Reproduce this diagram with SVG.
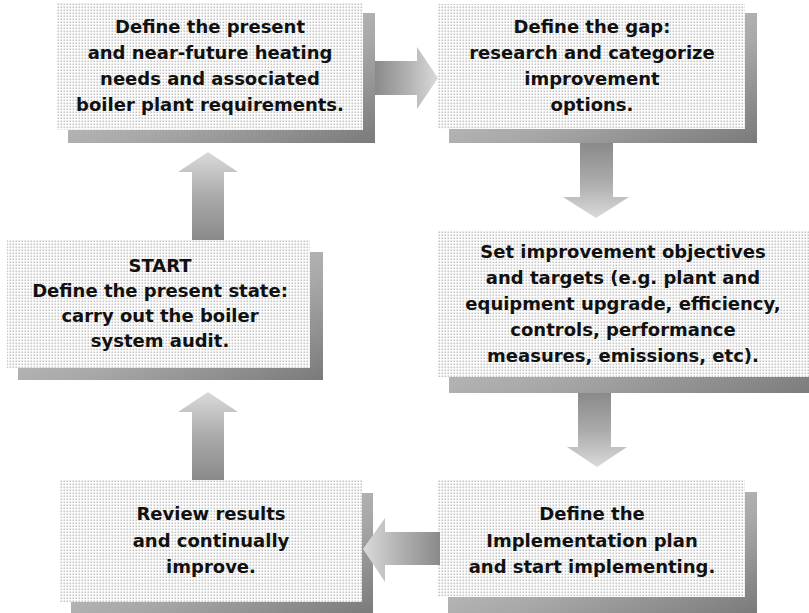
<svg xmlns="http://www.w3.org/2000/svg" width="809" height="613" viewBox="0 0 809 613">
<defs>
<pattern id="dots" width="3" height="3" patternUnits="userSpaceOnUse">
<rect width="3" height="3" fill="#ffffff"/>
<rect x="0.5" y="0.5" width="1.6" height="1.6" fill="#c4c4c4"/>
</pattern>
<linearGradient id="shadow" x1="0" y1="0" x2="1" y2="1">
<stop offset="0" stop-color="#d4d4d4"/>
<stop offset="0.6" stop-color="#a8a8a8"/>
<stop offset="1" stop-color="#7a7a7a"/>
</linearGradient>
<linearGradient id="gUp" x1="0" y1="1" x2="0" y2="0">
<stop offset="0" stop-color="#8a8a8a"/>
<stop offset="0.5" stop-color="#aaaaaa"/>
<stop offset="1" stop-color="#dadada"/>
</linearGradient>
<linearGradient id="gDown" x1="0" y1="0" x2="0" y2="1">
<stop offset="0" stop-color="#8a8a8a"/>
<stop offset="0.5" stop-color="#aaaaaa"/>
<stop offset="1" stop-color="#dadada"/>
</linearGradient>
<linearGradient id="gRight" x1="0" y1="0" x2="1" y2="0">
<stop offset="0" stop-color="#8a8a8a"/>
<stop offset="0.5" stop-color="#b0b0b0"/>
<stop offset="1" stop-color="#dadada"/>
</linearGradient>
<linearGradient id="gLeft" x1="1" y1="0" x2="0" y2="0">
<stop offset="0" stop-color="#8a8a8a"/>
<stop offset="0.5" stop-color="#b0b0b0"/>
<stop offset="1" stop-color="#dadada"/>
</linearGradient>
</defs>
<style>
.box{fill:url(#dots);}
.sh{fill:url(#shadow);}
text{font-family:"DejaVu Sans",sans-serif;font-weight:bold;font-size:18px;fill:#111;text-anchor:middle;}
</style>
<g id="node-needs">
<rect class="sh" x="68" y="13" width="307" height="130"/>
<rect class="box" x="57" y="3" width="306" height="127"/>
<text x="210" y="33">Define the present</text>
<text x="210" y="59">and near-future heating</text>
<text x="210" y="85">needs and associated</text>
<text x="210" y="111">boiler plant requirements.</text>
</g>
<g id="node-gap">
<rect class="sh" x="449" y="13" width="308" height="130"/>
<rect class="box" x="438" y="4" width="307" height="125"/>
<text x="592" y="33">Define the gap:</text>
<text x="592" y="59">research and categorize</text>
<text x="592" y="85">improvement</text>
<text x="592" y="111">options.</text>
</g>
<g id="node-objectives">
<rect class="sh" x="449" y="241" width="372" height="152"/>
<rect class="box" x="438" y="230" width="380" height="147"/>
<text x="623" y="258">Set improvement objectives</text>
<text x="623" y="284">and targets (e.g. plant and</text>
<text x="623" y="310">equipment upgrade, efficiency,</text>
<text x="623" y="336">controls, performance</text>
<text x="623" y="362">measures, emissions, etc).</text>
</g>
<g id="node-start">
<rect class="sh" x="18" y="252" width="305" height="128"/>
<rect class="box" x="7" y="240" width="303" height="128"/>
<text x="160" y="272">START</text>
<text x="160" y="297">Define the present state:</text>
<text x="160" y="322">carry out the boiler</text>
<text x="160" y="347">system audit.</text>
</g>
<g id="node-review">
<rect class="sh" x="71" y="493" width="302" height="120"/>
<rect class="box" x="60" y="480" width="302" height="122"/>
<text x="211" y="520">Review results</text>
<text x="211" y="547">and continually</text>
<text x="211" y="573">improve.</text>
</g>
<g id="node-implement">
<rect class="sh" x="448" y="492" width="309" height="121"/>
<rect class="box" x="437" y="480" width="308" height="117"/>
<text x="592" y="520">Define the</text>
<text x="592" y="547">Implementation plan</text>
<text x="592" y="573">and start implementing.</text>
</g>
<g id="connectors">
<polygon fill="url(#gRight)" points="375,61 417,61 417,47 438,78 417,109 417,95 375,95"/>
<polygon fill="url(#gDown)" points="580,143 613,143 613,197 629,197 596,218 563,197 580,197"/>
<polygon fill="url(#gDown)" points="578,393 611,393 611,447 627,447 597,467 567,447 578,447"/>
<polygon fill="url(#gLeft)" points="440,532 385,532 385,518 363,549 385,582 385,565 440,565"/>
<polygon fill="url(#gUp)" points="192,480 224,480 224,412 238,412 208,392 178,412 192,412"/>
<polygon fill="url(#gUp)" points="192,240 224,240 224,172 238,172 208,152 178,172 192,172"/>
</g>
</svg>
